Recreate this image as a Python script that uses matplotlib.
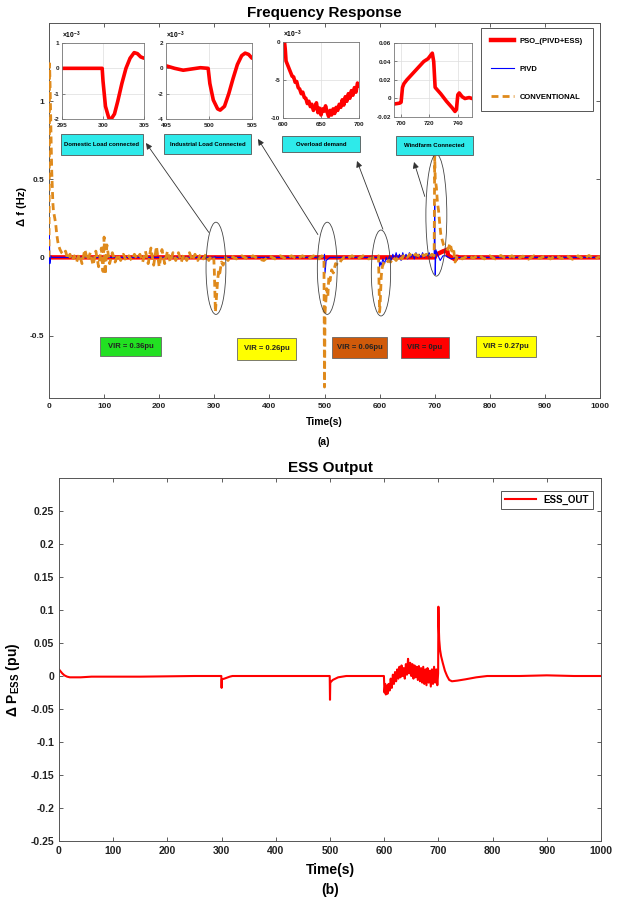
import matplotlib
matplotlib.use("Agg")
import matplotlib.pyplot as plt
from matplotlib.patches import Ellipse, Rectangle

plt.rcParams["font.family"] = ["Liberation Sans", "DejaVu Sans"]
plt.rcParams["font.weight"] = "bold"
plt.rcParams["mathtext.fontset"] = "custom"
plt.rcParams["mathtext.rm"] = "Liberation Sans:bold"
plt.rcParams["mathtext.bf"] = "Liberation Sans:bold"
plt.rcParams["axes.unicode_minus"] = False

# ---- data: frequency response (a) ----
conv_t = [0, 1, 2, 3, 4, 5, 6, 7, 8, 10, 12, 14, 16, 18, 20, 23, 26, 30, 34, 38,
          42, 46, 50, 55, 60, 65, 70, 75, 80, 85, 90, 95, 98, 100, 102, 105, 110,
          115, 120, 125, 130, 135, 140, 145, 150, 155, 160, 165, 170, 175, 180,
          185, 190, 195, 200, 205, 210, 215, 220, 225, 230, 235, 240, 245, 250,
          255, 260, 265, 270, 275, 280, 285, 290, 295, 299, 300, 301, 302, 304,
          306, 308, 310, 313, 316, 320, 325, 330, 340, 350, 360, 370, 380, 390,
          400, 410, 420, 430, 440, 450, 460, 470, 480, 490, 495, 499, 500, 501,
          502, 504, 506, 508, 510, 513, 516, 520, 525, 530, 535, 540, 550, 560,
          570, 580, 590, 598, 600, 601, 603, 605, 608, 612, 616, 620, 625, 630,
          635, 640, 645, 650, 655, 660, 665, 670, 675, 680, 685, 690, 695, 699,
          700, 701, 703, 705, 707, 709, 711, 713, 716, 720, 724, 728, 731, 734,
          737, 740, 745, 750, 760, 770, 780, 790, 800, 810, 820, 830, 840, 850,
          860, 870, 880, 890, 900, 910, 920, 930, 940, 950, 960, 970, 980, 990,
          1000]
conv_f = [0, 1.24, 1.1, 0.9, 0.72, 0.55, 0.45, 0.35, 0.3, 0.26, 0.22, 0.15, 0.1,
          0.07, 0.05, 0.03, 0.02, 0.04, -0.01, 0.02, -0.02, 0.01, -0.03, 0.02,
          -0.04, 0.05, -0.02, 0.03, -0.05, 0.04, -0.06, 0.06, -0.09, 0.13, -0.11,
          0.08, -0.04, 0.03, -0.03, 0.02, -0.02, 0.02, -0.02, 0.01, -0.02, 0.02,
          -0.01, 0.02, -0.03, 0.04, -0.04, 0.06, -0.05, 0.07, -0.06, 0.05, -0.04,
          0.04, -0.03, 0.03, -0.02, 0.03, -0.03, 0.02, -0.02, 0.03, -0.02, 0.02,
          -0.02, 0.02, -0.01, 0.02, -0.02, 0.01, 0.0, -0.08, -0.22, -0.35, -0.25,
          -0.15, -0.08, -0.1, -0.03, -0.05, 0.0, -0.02, 0.01, -0.01, 0.01, -0.01,
          0.01, -0.01, -0.02, 0.01, -0.01, 0.01, -0.01, 0.01, -0.01, 0.01, -0.01,
          0.01, -0.01, 0.01, 0.0, -0.83, -0.35, -0.3, -0.2, -0.25, -0.12, -0.15,
          -0.08, -0.1, -0.04, -0.05, -0.02, 0.0, -0.01, 0.01, -0.01, 0.01, -0.01,
          0.0, 0.01, -0.35, -0.3, -0.12, -0.06, -0.03, -0.04, -0.02, -0.03, 0.0,
          -0.02, 0.01, -0.01, 0.02, 0.0, 0.02, 0.0, 0.02, 0.01, 0.03, 0.01, 0.02,
          0.0, 0.02, 0.01, 0.65, 0.5, 0.45, 0.35, 0.3, 0.22, 0.15, 0.12, 0.08,
          0.06, 0.05, 0.09, 0.04, 0.06, -0.03, 0.0, 0.01, -0.01, 0.01, -0.005,
          0.015, -0.01, 0.01, -0.01, 0.012, -0.008, 0.01, -0.01, 0.008, -0.012,
          0.01, -0.008, 0.01, -0.01, 0.012, -0.008, 0.01, -0.012, 0.01, -0.01,
          0.012, -0.01, 0.005]

pivd_t = [0, 0.5, 1.5, 3, 5, 100, 200, 299, 300, 301, 303, 499, 500, 501, 503,
          510, 599, 600, 601, 603, 606, 609, 612, 615, 618, 621, 624, 627, 630,
          633, 636, 639, 642, 645, 648, 651, 654, 657, 660, 663, 666, 669, 672,
          675, 678, 681, 684, 687, 690, 693, 696, 699, 700, 701, 702, 705, 710,
          715, 720, 730, 740, 1000]
pivd_f = [0, 0.18, -0.04, 0.01, 0, 0, 0, 0, -0.01, 0.005, 0, 0, 0.02, -0.1,
          -0.02, 0, 0, -0.06, -0.03, -0.05, -0.01, -0.04, 0.0, -0.03, 0.01, -0.02,
          0.02, -0.01, 0.03, -0.01, 0.02, -0.02, 0.03, 0.0, 0.02, -0.01, 0.03,
          0.0, 0.02, -0.01, 0.03, 0.0, 0.02, 0.0, 0.03, 0.0, 0.02, 0.01, 0.03,
          0.0, 0.02, 0.01, 0.34, -0.11, 0.05, 0.02, -0.02, 0.01, 0.01, -0.01, 0,
          0]

pso_t = [0, 700, 701, 702, 704, 707, 710, 713, 716, 719, 722, 723, 724, 728,
         732, 736, 738, 740, 745, 1000]
pso_f = [0, 0, 0.012, 0.016, 0.02, 0.025, 0.03, 0.035, 0.04, 0.043, 0.049,
         0.04, 0.012, 0.005, -0.003, -0.01, -0.014, 0.004, 0, 0]

# ---- zoomed views of PSO_(PIVD+ESS) ----
z1_t = [295, 299.9, 300.0, 300.3, 300.7, 301.0, 301.4, 301.8, 302.3, 302.8,
        303.3, 303.8, 304.2, 304.6, 305]
z1_f = [0, 0, -0.5, -1.5, -1.95, -2.0, -1.8, -1.3, -0.6, 0.0, 0.4, 0.62, 0.58,
        0.45, 0.4]

z2_t = [495, 496, 497, 498, 499, 499.9, 500.1, 500.5, 501.0, 501.3, 501.8,
        502.3, 502.8, 503.3, 503.8, 504.2, 504.6, 505]
z2_f = [0.2, 0.0, -0.15, -0.05, 0.05, 0.0, -1.2, -2.5, -3.2, -3.3, -3.0, -2.0,
        -0.8, 0.3, 1.0, 1.2, 1.1, 0.8]

z3_t = [600, 602, 603, 604, 606, 608, 610, 612, 614, 616, 618, 620, 622, 624,
        626, 628, 630, 632, 634, 636, 638, 640, 642, 644, 646, 648, 650, 652,
        654, 656, 658, 660, 662, 664, 666, 668, 670, 672, 674, 676, 678, 680,
        682, 684, 686, 688, 690, 692, 694, 696, 698, 700]
z3_f = [0, 0, -1, -2.5, -3, -3.5, -4, -4.5, -4.6, -5.3, -5.2, -6, -6.2, -6.8,
        -6.6, -7.3, -7.4, -8.1, -7.8, -8.5, -8.2, -9.0, -8.6, -8.0, -9.3, -8.7,
        -9.6, -8.8, -9.1, -8.4, -9.2, -9.8, -9.0, -9.6, -8.8, -9.4, -8.6, -9.0,
        -8.2, -8.6, -7.6, -8.3, -7.2, -7.8, -6.8, -7.4, -6.4, -7.0, -6.0, -6.6,
        -5.4, -5.8]

z4_t = [695, 699, 700, 701, 702, 704, 707, 710, 713, 716, 719, 722, 723, 724,
        728, 732, 736, 738, 739, 740, 741, 743, 745, 748, 750]
z4_f = [-0.006, -0.005, -0.004, 0.012, 0.016, 0.02, 0.025, 0.03, 0.035, 0.04,
        0.043, 0.049, 0.04, 0.012, 0.005, -0.003, -0.01, -0.014, -0.012, 0.004,
        0.006, 0.002, 0.0, 0.001, 0.0]

events = ["Domestic Load connected", "Industrial Load Connected",
          "Overload demand", "Windfarm Connected"]
vir_labels = ["VIR = 0.36pu", "VIR = 0.26pu", "VIR = 0.06pu", "VIR = 0pu",
              "VIR = 0.27pu"]
vir_colors = ["#22E022", "#FFFF00", "#D05A0A", "#FF0000", "#FFFF00"]

# ---- data: ESS output (b) ----
ess_t = [0, 1, 3, 6, 10, 15, 20, 40, 60, 100, 150, 200, 250, 299.5, 300, 300.5,
         305, 315, 320, 400, 499.5, 500, 500.5, 505, 515, 530, 599.5, 600.5,
         602, 603, 605, 606, 608, 610, 612, 614, 616, 618, 620, 622, 624, 626,
         628, 630, 632, 634, 636, 638, 640, 642, 644, 646, 648, 650, 652, 654,
         656, 658, 660, 662, 664, 666, 668, 670, 672, 674, 676, 678, 680, 682,
         684, 686, 688, 690, 692, 694, 696, 698, 699.5, 700, 700.5, 701.5, 703,
         705, 708, 712, 716, 720, 725, 735, 750, 770, 790, 850, 900, 950, 1000]
ess_p = [0.01, 0.009, 0.007, 0.004, 0.001, -0.001, -0.002, -0.002, -0.001,
         -0.001, -0.001, -0.0005, 0, 0, -0.018, -0.005, -0.004, -0.001, 0, 0, 0,
         -0.036, -0.01, -0.006, -0.002, 0, 0, -0.025, -0.012, -0.028, -0.015,
         -0.027, -0.012, -0.022, -0.004, -0.018, 0.002, -0.012, 0.006, -0.008,
         0.01, -0.004, 0.014, -0.002, 0.016, 0.0, 0.012, -0.004, 0.018, 0.002,
         0.026, 0.004, 0.02, 0.0, 0.018, -0.004, 0.016, -0.002, 0.014, -0.006,
         0.015, -0.008, 0.012, -0.01, 0.014, -0.012, 0.01, -0.014, 0.012, -0.01,
         0.008, -0.016, 0.01, -0.012, 0.014, -0.01, 0.01, -0.014, 0.004, 0.105,
         0.08, 0.055, 0.04, 0.03, 0.02, 0.008, 0.0, -0.006, -0.008, -0.007,
         -0.005, -0.002, 0, 0, 0.001, 0, 0]

RED = "#FF0000"
BLUE = "#0000FF"
ORANGE = "#DF8A1C"
CYAN = "#2EEAEA"
EDGE = "#444444"

W, H = 618, 902


def fx(px):
    return px / W


def fy(py):
    return 1 - py / H


def style_axes(ax, size):
    ax.tick_params(direction="in", top=True, right=True, labelsize=size,
                   colors=EDGE, labelcolor="#222222", length=3, width=0.6)
    for s in ax.spines.values():
        s.set_edgecolor("#555555")
        s.set_linewidth(0.7)


fig = plt.figure(figsize=(W / 100, H / 100), dpi=100, facecolor="white")

# ================= (a) frequency response =================
ax1 = fig.add_axes([fx(49), fy(398), fx(600) - fx(49), fy(23) - fy(398)])
ax1.plot(pso_t, pso_f, color=RED, lw=3.2, label="PSO_(PIVD+ESS)", zorder=2)
ax1.plot(pivd_t, pivd_f, color=BLUE, lw=0.8, label="PIVD", zorder=3)
ax1.plot(conv_t, conv_f, color=ORANGE, lw=2.0, linestyle=(0, (2.5, 1.5)),
         label="CONVENTIONAL", zorder=4)
ax1.set_xlim(0, 1000)
ax1.set_ylim(-0.9, 1.5)
ax1.set_xticks(range(0, 1001, 100))
ax1.set_yticks([-0.5, 0, 0.5, 1])
ax1.set_yticklabels(["-0.5", "0", "0.5", "1"])
style_axes(ax1, 6)
ax1.set_title("Frequency Response", fontsize=11, fontweight="bold", pad=4)

leg1 = ax1.legend(loc="upper right", bbox_to_anchor=(fx(597), fy(24)),
                  bbox_transform=fig.transFigure, fontsize=5.5, handlelength=3.0,
                  labelspacing=2.7, borderpad=1.3, fancybox=False,
                  edgecolor="#555555", framealpha=1)
leg1.get_frame().set_linewidth(0.7)
leg1.set_zorder(10)

# ellipses around events (center t, center f, width, height)
ell_t = [303, 505, 602.5, 703]
ell_f = [-0.07, -0.07, -0.10, 0.27]
ell_w = [36, 36, 35, 38]
ell_h = [0.59, 0.59, 0.55, 0.78]
for t, f, w, h in zip(ell_t, ell_f, ell_w, ell_h):
    ax1.add_patch(Ellipse((t, f), w, h, fill=False, edgecolor="#444444",
                          lw=0.6, zorder=6))

# arrows from ellipses to the event boxes
tail_t = [290, 488, 606, 682]
tail_f = [0.16, 0.146, 0.18, 0.39]
heads = [(146, 143), (258, 139), (357, 161), (414, 162)]
for t, f, (hx, hy) in zip(tail_t, tail_f, heads):
    ax1.annotate("", xy=(fx(hx), fy(hy)), xycoords="figure fraction",
                 xytext=(t, f), textcoords="data", annotation_clip=False,
                 arrowprops=dict(arrowstyle="-|>", color="#333333", lw=0.6,
                                 mutation_scale=9, shrinkA=0, shrinkB=0))

# event label boxes
ev_boxes = [(61, 134, 143, 155), (164, 134, 251, 154), (282, 136, 360, 152),
            (396, 136, 473, 155)]
for (x0, y0, x1, y1), txt in zip(ev_boxes, events):
    fig.patches.append(Rectangle((fx(x0), fy(y1)), fx(x1) - fx(x0),
                                 fy(y0) - fy(y1), transform=fig.transFigure,
                                 facecolor=CYAN, edgecolor="#555555", lw=0.6))
    fig.text(fx((x0 + x1) / 2), fy((y0 + y1) / 2), txt, fontsize=4.3,
             fontweight="bold", ha="center", va="center")

# VIR boxes
vir_boxes = [(100, 337, 161, 356), (237, 338, 296, 360), (332, 337, 387, 358),
             (401, 337, 449, 358), (476, 336, 536, 357)]
for (x0, y0, x1, y1), txt, c in zip(vir_boxes, vir_labels, vir_colors):
    fig.patches.append(Rectangle((fx(x0), fy(y1)), fx(x1) - fx(x0),
                                 fy(y0) - fy(y1), transform=fig.transFigure,
                                 facecolor=c, edgecolor="#666666", lw=0.6))
    fig.text(fx((x0 + x1) / 2), fy((y0 + y1) / 2), txt, fontsize=5.5,
             fontweight="bold", ha="center", va="center", color="#222222")

fig.text(fx(22), fy(207), "Δ f (Hz)", rotation=90, fontsize=8,
         fontweight="bold", ha="center", va="center")
fig.text(fx(324), fy(422), "Time(s)", fontsize=7.5, ha="center", va="center")
fig.text(fx(324), fy(442), "(a)", fontsize=7.5, ha="center", va="center")

# insets
insets = [
    ((62, 43, 144, 119), z1_t, z1_f, (295, 305), (-2, 1), [295, 300, 305],
     [-2, -1, 0, 1], True),
    ((166, 43, 252, 119), z2_t, z2_f, (495, 505), (-4, 2), [495, 500, 505],
     [-4, -2, 0, 2], True),
    ((283, 42, 359, 118), z3_t, z3_f, (600, 700), (-10, 0), [600, 650, 700],
     [-10, -5, 0], True),
    ((394, 43, 472, 117), z4_t, z4_f, (695, 750), (-0.02, 0.06),
     [700, 720, 740], [-0.02, 0, 0.02, 0.04, 0.06], False),
]
for (x0, y0, x1, y1), t, f, xl, yl, xt, yt, sci in insets:
    axi = fig.add_axes([fx(x0), fy(y1), fx(x1) - fx(x0), fy(y0) - fy(y1)])
    axi.plot(t, f, color=RED, lw=2.6, solid_capstyle="round")
    axi.set_xlim(*xl)
    axi.set_ylim(*yl)
    axi.set_xticks(xt)
    axi.set_yticks(yt)
    axi.set_yticklabels([f"{v:g}" for v in yt])
    axi.grid(True, color="#DDDDDD", lw=0.5)
    axi.tick_params(direction="in", labelsize=4.6, length=2, width=0.5,
                    colors="#555555", labelcolor="#222222")
    axi.tick_params(axis="x", pad=3)
    axi.tick_params(axis="y", pad=2)
    for s in axi.spines.values():
        s.set_edgecolor("#777777")
        s.set_linewidth(0.6)
    if sci:
        axi.text(0.0, 1.02, r"$\times10^{-3}$", transform=axi.transAxes,
                 fontsize=4.8, ha="left", va="bottom")

# ================= (b) ESS output =================
ax2 = fig.add_axes([fx(59), fy(841), fx(601) - fx(59), fy(478) - fy(841)])
ax2.plot(ess_t, ess_p, color=RED, lw=1.5, label="ESS_OUT")
ax2.set_xlim(0, 1000)
ax2.set_ylim(-0.25, 0.3)
ax2.set_xticks(range(0, 1001, 100))
yt2 = [-0.25, -0.2, -0.15, -0.1, -0.05, 0, 0.05, 0.1, 0.15, 0.2, 0.25]
ax2.set_yticks(yt2)
ax2.set_yticklabels([f"{v:g}" for v in yt2])
style_axes(ax2, 7.5)
ax2.set_title("ESS Output", fontsize=11, fontweight="bold", pad=4)
leg2 = ax2.legend(loc="upper right", bbox_to_anchor=(fx(598), fy(486)),
                  bbox_transform=fig.transFigure, fontsize=7, handlelength=3.2,
                  borderpad=0.4, fancybox=False, edgecolor="#555555",
                  framealpha=1)
leg2.get_frame().set_linewidth(0.7)

fig.text(fx(13), fy(680), r"Δ P$_{\mathbf{ESS}}$ (pu)", rotation=90,
         fontsize=10, fontweight="bold", ha="center", va="center")
fig.text(fx(330), fy(870), "Time(s)", fontsize=10, fontweight="bold",
         ha="center", va="center")
fig.text(fx(330), fy(890), "(b)", fontsize=10, fontweight="bold",
         ha="center", va="center")

fig.savefig("out.png", dpi=100, facecolor="white")
